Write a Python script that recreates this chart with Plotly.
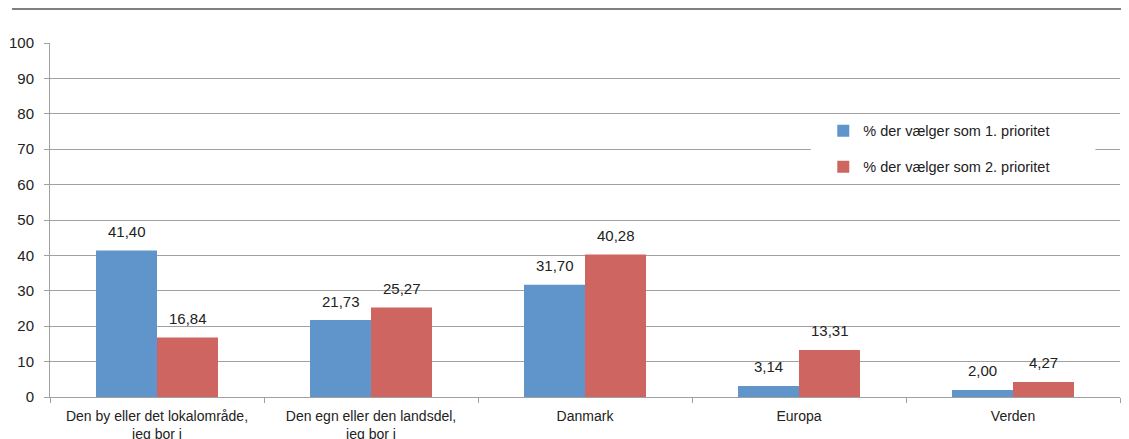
import plotly.graph_objects as go

categories = ["Den by eller det lokalområde,<br>jeg bor i", "Den egn eller den landsdel,<br>jeg bor i",
              "Danmark", "Europa", "Verden"]
series1_name = "% der vælger som 1. prioritet"
series2_name = "% der vælger som 2. prioritet"
series1 = [41.40, 21.73, 31.70, 3.14, 2.00]
series2 = [16.84, 25.27, 40.28, 13.31, 4.27]
yticks = [0, 10, 20, 30, 40, 50, 60, 70, 80, 90, 100]

BLUE = "#5F95CA"
RED = "#CF6560"
FONT = "Liberation Sans, Arial, sans-serif"
BARGAP = 0.43

def fmt(v):
    return f"{v:.2f}".replace(".", ",")

fig = go.Figure()
fig.add_trace(go.Bar(x=categories, y=series1, name=series1_name, marker_color=BLUE,
                     marker_line_width=0, legendgroup="a"))
fig.add_trace(go.Bar(x=categories, y=series2, name=series2_name, marker_color=RED,
                     marker_line_width=0, legendgroup="b"))

# value labels placed above each bar (offset within the group derived from bar layout)
bw = (1 - BARGAP) / 2
annotations = []
for k, series in enumerate([series1, series2]):
    off = (k - 0.5) * bw
    for i, v in enumerate(series):
        annotations.append(dict(x=i + off, y=v, xref="x", yref="y", text=fmt(v), showarrow=False,
                                yshift=19, yanchor="middle", font=dict(size=15, color="#222")))

# page body has an 8px margin, so the figure is sized/offset to compensate
fig.update_layout(
    width=1121, height=431,
    margin=dict(l=42, r=9, t=35, b=42),
    paper_bgcolor="white", plot_bgcolor="white",
    font=dict(family=FONT, size=14, color="#222"),
    barmode="group", bargap=BARGAP, bargroupgap=0,
    showlegend=True,
    legend=dict(x=0.7227, y=0.797, xanchor="left", yanchor="top", bgcolor="rgba(0,0,0,0)",
                font=dict(size=14.5, color="#222"), tracegroupgap=14, itemwidth=30),
    xaxis=dict(type="category", showline=True, linecolor="#A0A0A0", linewidth=1,
               ticks="outside", tickson="boundaries", ticklen=5, tickcolor="#A0A0A0",
               tickfont=dict(size=14, color="#222"), showgrid=False, automargin=False,
               ticklabelstandoff=6),
    yaxis=dict(range=[0, 100], tickvals=yticks, showline=True, linecolor="#A0A0A0", linewidth=1,
               ticks="outside", ticklen=5, tickcolor="#A0A0A0", showgrid=True, gridcolor="#A0A0A0",
               gridwidth=1, zeroline=False, tickfont=dict(size=15, color="#222"), automargin=False,
               ticklabelstandoff=7),
    annotations=annotations,
    shapes=[
        dict(type="line", xref="paper", yref="paper", x0=-0.0355, x1=1.0084, y0=1.096, y1=1.096,
             line=dict(color="#555555", width=1.5)),
        dict(type="rect", xref="paper", yref="y", x0=0.711, x1=0.977, y0=60.4, y1=79.6,
             fillcolor="white", line_width=0, layer="above"),
    ],
)

fig.write_html("out.html")
